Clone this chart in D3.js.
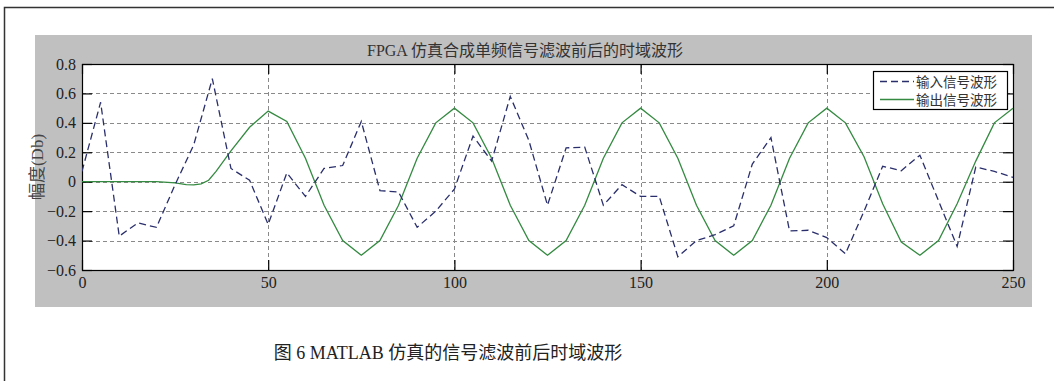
<!DOCTYPE html>
<html>
<head>
<meta charset="utf-8">
<script src="https://cdn.jsdelivr.net/npm/d3@7"></script>
<style>
    body { margin: 0; background: #fff; }
    svg text { font-family: "Liberation Serif", "Noto Sans CJK SC", serif; }
</style>
</head>
<body>
<div id="graphic"></div>
<script>

var title = "FPGA 仿真合成单频信号滤波前后的时域波形";
var caption = "图 6 MATLAB 仿真的信号滤波前后时域波形";
var yLabel = "幅度(Db)";
var legendNames = ["输入信号波形", "输出信号波形"];

var xTicks = [0, 50, 100, 150, 200, 250];
var yTicks = [-0.6, -0.4, -0.2, 0, 0.2, 0.4, 0.6, 0.8];

/* input signal, one sample every 5 points */
var inputX = [0, 5, 10, 15, 20, 25, 30, 35, 40, 45, 50, 55, 60, 65, 70, 75, 80, 85, 90, 95,
    100, 105, 110, 115, 120, 125, 130, 135, 140, 145, 150, 155, 160, 165, 170, 175, 180, 185, 190, 195,
    200, 205, 210, 215, 220, 225, 230, 235, 240, 245, 250];
var inputY = [0.07, 0.54, -0.37, -0.28, -0.31, -0.02, 0.25, 0.70, 0.09, 0.01,
    -0.29, 0.06, -0.10, 0.09, 0.11, 0.41, -0.06, -0.07, -0.31, -0.20,
    -0.05, 0.31, 0.14, 0.58, 0.28, -0.16, 0.23, 0.235, -0.16, -0.02,
    -0.10, -0.10, -0.51, -0.40, -0.36, -0.30, 0.12, 0.30, -0.335, -0.33,
    -0.38, -0.49, -0.20, 0.105, 0.075, 0.18, -0.13, -0.44, 0.10, 0.07,
    0.03];

/* filtered output */
var outputX = [0, 5, 10, 15, 20, 25, 28, 30, 32, 34, 36, 40, 45, 50, 55, 60, 65, 70, 75, 80, 85, 90, 95,
    100, 105, 110, 115, 120, 125, 130, 135, 140, 145, 150, 155, 160, 165, 170, 175, 180, 185, 190, 195,
    200, 205, 210, 215, 220, 225, 230, 235, 240, 245, 250];
var outputY = [0, 0, 0, 0, 0, -0.008, -0.02, -0.022, -0.015, 0.01, 0.07, 0.21, 0.37, 0.48, 0.41, 0.16, -0.16, -0.40, -0.50, -0.40, -0.16, 0.16, 0.40,
    0.50, 0.40, 0.16, -0.16, -0.40, -0.50, -0.40, -0.16, 0.16, 0.40, 0.50, 0.40, 0.16, -0.16, -0.40, -0.50, -0.40, -0.16, 0.16, 0.40,
    0.50, 0.40, 0.17, -0.15, -0.41, -0.50, -0.40, -0.15, 0.14, 0.40, 0.50];

var inColor = "#2a2f6c";
var outColor = "#348a40";

var W = 1054, H = 381;
var plot = {left: 82, right: 1013, top: 64, bottom: 270};

var x = d3.scaleLinear().domain([0, 250]).range([plot.left, plot.right]);
var y = d3.scaleLinear().domain([-0.6, 0.8]).range([plot.bottom, plot.top]);

var svg = d3.select("#graphic").append("svg")
        .attr("width", W)
        .attr("height", H);

// page frame
svg.append("path")
        .attr("d", "M4.5," + H + "V7.5H" + W)
        .attr("fill", "none")
        .attr("stroke", "#333")
        .attr("stroke-width", 1.5);

// gray figure background
svg.append("rect")
        .attr("x", 35).attr("y", 35)
        .attr("width", 997).attr("height", 272)
        .attr("fill", "#c0c0c0");

svg.append("rect")
        .attr("x", plot.left).attr("y", plot.top)
        .attr("width", plot.right - plot.left).attr("height", plot.bottom - plot.top)
        .attr("fill", "#fff");

// grid
var grid = svg.append("g").attr("stroke", "#8a8a8a").attr("stroke-dasharray", "4,3").attr("stroke-width", 1);
grid.selectAll(".gy")
        .data(yTicks.filter(function (d) { return d > -0.6 && d < 0.8; }))
        .enter().append("line")
        .attr("x1", plot.left).attr("x2", plot.right)
        .attr("y1", function (d) { return Math.round(y(d)) + 0.5; })
        .attr("y2", function (d) { return Math.round(y(d)) + 0.5; });
grid.selectAll(".gx")
        .data(xTicks.filter(function (d) { return d > 0 && d < 250; }))
        .enter().append("line")
        .attr("y1", plot.top).attr("y2", plot.bottom)
        .attr("x1", function (d) { return Math.round(x(d)) + 0.5; })
        .attr("x2", function (d) { return Math.round(x(d)) + 0.5; });

// axes, ticks pointing inward like matlab
var tickLen = 10;
var axB = svg.append("g").attr("transform", "translate(0," + plot.bottom + ")")
        .call(d3.axisBottom(x).tickValues(xTicks).tickSize(-tickLen).tickPadding(6).tickFormat(d3.format("d")));
var axT = svg.append("g").attr("transform", "translate(0," + plot.top + ")")
        .call(d3.axisTop(x).tickValues(xTicks).tickSize(-tickLen).tickFormat(""));
var axL = svg.append("g").attr("transform", "translate(" + plot.left + ",0)")
        .call(d3.axisLeft(y).tickValues(yTicks).tickSize(-tickLen).tickPadding(6).tickFormat(function (d) { return d3.format("")(Math.round(d * 10) / 10); }));
var axR = svg.append("g").attr("transform", "translate(" + plot.right + ",0)")
        .call(d3.axisRight(y).tickValues(yTicks).tickSize(-tickLen).tickFormat(""));

[axB, axT, axL, axR].forEach(function (a) {
    a.select(".domain").remove();
    a.selectAll("line").attr("stroke", "#000").attr("stroke-width", 1.2);
    a.selectAll("text").attr("font-size", 16).attr("fill", "#222")
            .attr("font-family", "Liberation Serif");
});
axB.selectAll("text").attr("dy", "0.75em");

svg.append("rect")
        .attr("x", plot.left + 0.5).attr("y", plot.top + 0.5)
        .attr("width", plot.right - plot.left).attr("height", plot.bottom - plot.top)
        .attr("fill", "none")
        .attr("stroke", "#000")
        .attr("stroke-width", 1.2);

// series
var line = d3.line()
        .x(function (d) { return x(d[0]); })
        .y(function (d) { return y(d[1]); });

svg.append("clipPath").attr("id", "clip").append("rect")
        .attr("x", plot.left).attr("y", plot.top)
        .attr("width", plot.right - plot.left + 1).attr("height", plot.bottom - plot.top);

svg.append("path")
        .datum(d3.zip(outputX, outputY))
        .attr("d", line)
        .attr("fill", "none")
        .attr("stroke", outColor)
        .attr("stroke-width", 1.3)
        .attr("clip-path", "url(#clip)");

svg.append("path")
        .datum(d3.zip(inputX, inputY))
        .attr("d", line)
        .attr("fill", "none")
        .attr("stroke", inColor)
        .attr("stroke-width", 1.3)
        .attr("stroke-dasharray", "7,4")
        .attr("clip-path", "url(#clip)");

// title and labels
svg.append("text")
        .attr("x", 525).attr("y", 56)
        .attr("text-anchor", "middle")
        .attr("font-size", 16)
        .attr("fill", "#333")
        .text(title);

svg.append("text")
        .attr("transform", "translate(43,167) rotate(-90)")
        .attr("text-anchor", "middle")
        .attr("font-size", 17)
        .attr("fill", "#444")
        .text(yLabel);

svg.append("text")
        .attr("x", 448).attr("y", 359)
        .attr("text-anchor", "middle")
        .attr("font-size", 18)
        .attr("fill", "#222")
        .text(caption);

// legend
var lg = svg.append("g");
lg.append("rect")
        .attr("x", 873.5).attr("y", 71.5)
        .attr("width", 134).attr("height", 38)
        .attr("fill", "#fff")
        .attr("stroke", "#000")
        .attr("stroke-width", 1.2);

var legendRows = [
    {name: legendNames[0], c: inColor, dash: "7,4", yy: 81.5},
    {name: legendNames[1], c: outColor, dash: null, yy: 99.5}
];
legendRows.forEach(function (r) {
    lg.append("line")
            .attr("x1", 880).attr("x2", 914)
            .attr("y1", r.yy).attr("y2", r.yy)
            .attr("stroke", r.c)
            .attr("stroke-width", 1.3)
            .attr("stroke-dasharray", r.dash);
    lg.append("text")
            .attr("x", 916).attr("y", r.yy + 5)
            .attr("font-size", 13.5)
            .attr("fill", "#333")
            .text(r.name);
});

</script>
</body>
</html>
